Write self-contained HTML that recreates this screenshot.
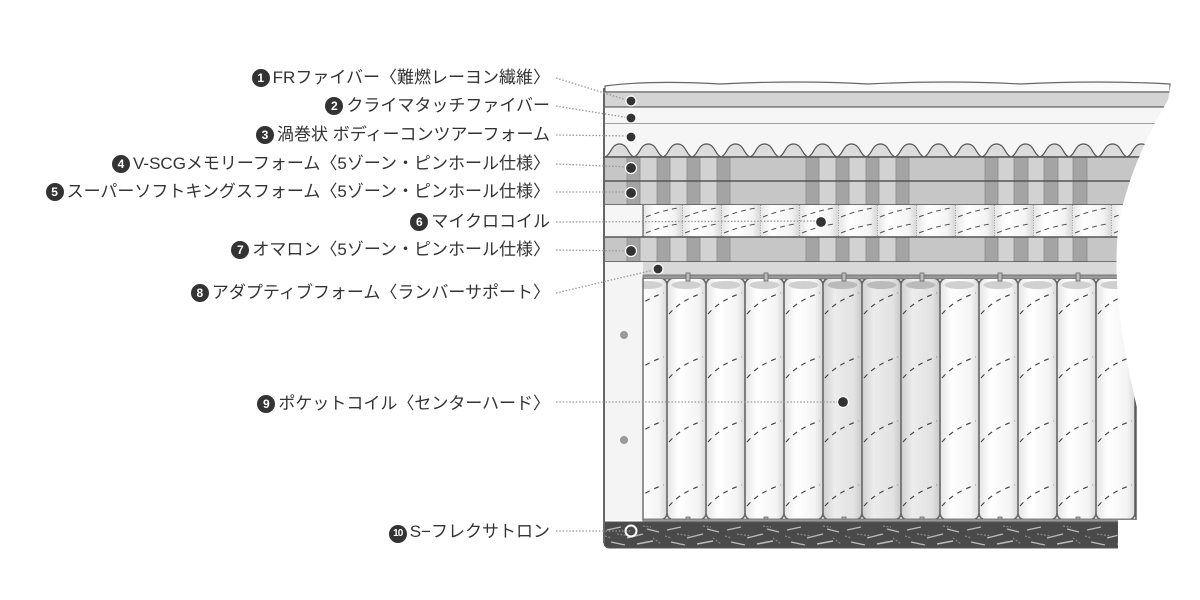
<!DOCTYPE html>
<html><head><meta charset="utf-8"><style>
html,body{margin:0;padding:0;background:#fff;width:1200px;height:600px;overflow:hidden;position:relative}
.l{position:absolute;right:650px;height:24px;line-height:24px;white-space:nowrap;font-family:"Liberation Sans","Noto Sans CJK JP",sans-serif;font-size:17px;color:#333;text-align:right}
.n{display:inline-block;width:18px;height:18px;border-radius:50%;background:#333;color:#fff;font-size:12px;font-weight:bold;line-height:18px;text-align:center;vertical-align:1px;margin-right:3px}
.n.s{font-size:10px;letter-spacing:-1px}
svg{position:absolute;left:0;top:0}
</style></head><body>
<svg width="1200" height="600" viewBox="0 0 1200 600" xmlns="http://www.w3.org/2000/svg">
<defs>
<linearGradient id="cg" x1="0" x2="1"><stop offset="0" stop-color="#e4e4e4"/><stop offset="0.3" stop-color="#fff"/><stop offset="0.8" stop-color="#f4f4f4"/><stop offset="1" stop-color="#d8d8d8"/></linearGradient>
<linearGradient id="cgd" x1="0" x2="1"><stop offset="0" stop-color="#cfcfcf"/><stop offset="0.3" stop-color="#ececec"/><stop offset="0.8" stop-color="#e2e2e2"/><stop offset="1" stop-color="#c8c8c8"/></linearGradient>
<pattern id="bump" x="605" y="140" width="29" height="17" patternUnits="userSpaceOnUse">
<path d="M0,17 C6,15 6,4 14.5,4 C23,4 23,15 29,17 Z" fill="#dcdcdc" stroke="#555" stroke-width="1.2"/>
</pattern>
<pattern id="micro" x="643" y="205" width="39" height="32" patternUnits="userSpaceOnUse">
<rect width="39" height="32" fill="url(#cg)"/>
<line x1="0.5" y1="0" x2="0.5" y2="32" stroke="#999" stroke-dasharray="1 1.5"/>
<path d="M3,12 Q20,5 36,3 M3,28 Q20,21 36,19" stroke="#555" fill="none" stroke-dasharray="5 4" stroke-width="1"/>
</pattern>
<pattern id="coil" x="628" y="278" width="39" height="242" patternUnits="userSpaceOnUse">
<rect x="0" y="0" width="39" height="242" rx="7" fill="url(#cg)" stroke="#666" stroke-width="1.6"/>
<ellipse cx="19.5" cy="7" rx="15" ry="4" fill="#d0d0d0"/>
<path d="M2,36 Q14,22 36,15 M2,100 Q14,86 36,79 M2,164 Q14,150 36,143 M2,228 Q14,214 36,207" stroke="#444" fill="none" stroke-dasharray="5 5" stroke-width="1.1"/>
</pattern>
<pattern id="coild" x="628" y="278" width="39" height="242" patternUnits="userSpaceOnUse">
<rect x="0" y="0" width="39" height="242" rx="7" fill="url(#cgd)" stroke="#666" stroke-width="1.6"/>
<ellipse cx="19.5" cy="7" rx="15" ry="4" fill="#bbb"/>
<path d="M2,36 Q14,22 36,15 M2,100 Q14,86 36,79 M2,164 Q14,150 36,143 M2,228 Q14,214 36,207" stroke="#444" fill="none" stroke-dasharray="5 5" stroke-width="1.1"/>
</pattern>
<pattern id="flex" x="603" y="524" width="60" height="24" patternUnits="userSpaceOnUse">
<rect width="60" height="24" fill="#4a4a4a"/>
<path d="M4,6 L18,3 M24,14 L40,10 M44,5 L56,8 M8,18 L22,21 M34,20 L50,17" stroke="#bbb" stroke-width="1.4"/>
<path d="M14,10 L28,12 M40,2 L48,3 M50,14 L58,20 M2,12 L8,14" stroke="#888" stroke-width="1.2" stroke-dasharray="2 1.5"/>
</pattern>
<clipPath id="cut"><path d="M590,60 L1175,60 L1168,100 C1150,130 1125,180 1118,230 C1112,290 1125,360 1140,420 L1140,520 L1118,520 L1118,560 L590,560 Z"/></clipPath>
</defs>

<g clip-path="url(#cut)">
<path d="M605,92 L605,86 Q650,80 720,84 Q800,80 868,84 Q950,80 1020,84 Q1100,80 1170,84 L1170,92 Z" fill="#fafafa" stroke="#666" stroke-width="1.2"/>
<rect x="604" y="92" width="570" height="15" fill="#d4d4d4" stroke="#666" stroke-width="1.2"/>
<rect x="604" y="107" width="570" height="17" fill="#f6f6f6" stroke="#666" stroke-width="1.2"/>
<rect x="604" y="124" width="570" height="33" fill="#f6f6f6"/>
<rect x="605" y="140" width="565" height="17" fill="url(#bump)"/>
<rect x="604" y="157" width="570" height="48" fill="#c6c6c6"/>
<rect x="604" y="237" width="570" height="25" fill="#c6c6c6"/>
<g fill="#d2d2d2">
<rect x="640" y="157" width="17" height="48"/><rect x="670" y="157" width="17" height="48"/><rect x="700" y="157" width="17" height="48"/>
<rect x="819" y="157" width="17" height="48"/><rect x="849" y="157" width="17" height="48"/><rect x="879" y="157" width="17" height="48"/>
<rect x="998" y="157" width="16" height="48"/><rect x="1028" y="157" width="16" height="48"/><rect x="1058" y="157" width="15" height="48"/>
<rect x="640" y="237" width="17" height="25"/><rect x="670" y="237" width="17" height="25"/><rect x="700" y="237" width="17" height="25"/>
<rect x="819" y="237" width="17" height="25"/><rect x="849" y="237" width="17" height="25"/><rect x="879" y="237" width="17" height="25"/>
<rect x="998" y="237" width="16" height="25"/><rect x="1028" y="237" width="16" height="25"/><rect x="1058" y="237" width="15" height="25"/>
</g>
<g fill="#a4a4a4" stroke="#8a8a8a" stroke-width="0.8">
<rect x="627" y="157" width="13" height="48"/><rect x="657" y="157" width="13" height="48"/><rect x="687" y="157" width="13" height="48"/><rect x="717" y="157" width="13" height="48"/>
<rect x="806" y="157" width="13" height="48"/><rect x="836" y="157" width="13" height="48"/><rect x="866" y="157" width="13" height="48"/><rect x="896" y="157" width="13" height="48"/>
<rect x="985" y="157" width="13" height="48"/><rect x="1014" y="157" width="14" height="48"/><rect x="1044" y="157" width="14" height="48"/><rect x="1073" y="157" width="14" height="48"/>
<rect x="627" y="237" width="13" height="25"/><rect x="657" y="237" width="13" height="25"/><rect x="687" y="237" width="13" height="25"/><rect x="717" y="237" width="13" height="25"/>
<rect x="806" y="237" width="13" height="25"/><rect x="836" y="237" width="13" height="25"/><rect x="866" y="237" width="13" height="25"/><rect x="896" y="237" width="13" height="25"/>
<rect x="985" y="237" width="13" height="25"/><rect x="1014" y="237" width="14" height="25"/><rect x="1044" y="237" width="14" height="25"/><rect x="1073" y="237" width="14" height="25"/>
</g>
<line x1="604" y1="157" x2="1174" y2="157" stroke="#555" stroke-width="1.4"/>
<line x1="604" y1="181" x2="1174" y2="181" stroke="#555" stroke-width="1.4"/>
<line x1="604" y1="205" x2="1174" y2="205" stroke="#555" stroke-width="1.4"/>
<rect x="604" y="205" width="39" height="32" fill="#f6f6f6"/>
<rect x="643" y="205" width="530" height="32" fill="url(#micro)"/>
<line x1="643" y1="205" x2="643" y2="237" stroke="#666" stroke-width="1.2"/>
<line x1="604" y1="237" x2="1174" y2="237" stroke="#555" stroke-width="1.4"/>
<line x1="604" y1="262" x2="1174" y2="262" stroke="#555" stroke-width="1.4"/>
<rect x="604" y="262" width="39" height="258" fill="#f4f4f4"/>
<rect x="643" y="262" width="530" height="13" fill="#d8d8d8"/>
<rect x="643" y="275" width="530" height="4" fill="#999" stroke="#666" stroke-width="0.8"/>
<rect x="643" y="279" width="493" height="241" fill="url(#coil)"/>
<rect x="823" y="279" width="117" height="241" fill="url(#coild)"/>
<line x1="643" y1="278" x2="643" y2="520" stroke="#666" stroke-width="1.4"/>
<line x1="1136" y1="290" x2="1136" y2="520" stroke="#555" stroke-width="1.4"/>
<path d="M1140,330 Q1150,318 1165,313 M1140,375 Q1150,362 1165,357 M1140,420 Q1150,408 1165,403" stroke="#666" fill="none" stroke-dasharray="5 5"/>
<g fill="#bbb" stroke="#666" stroke-width="0.8">
<rect x="686" y="273" width="4" height="8"/><rect x="764" y="273" width="4" height="8"/><rect x="842" y="273" width="4" height="8"/><rect x="920" y="273" width="4" height="8"/><rect x="998" y="273" width="4" height="8"/><rect x="1076" y="273" width="4" height="8"/>
<rect x="686" y="517" width="4" height="8"/><rect x="764" y="517" width="4" height="8"/><rect x="842" y="517" width="4" height="8"/><rect x="920" y="517" width="4" height="8"/><rect x="998" y="517" width="4" height="8"/><rect x="1076" y="517" width="4" height="8"/>
</g>
<rect x="643" y="519" width="493" height="4" fill="#999" stroke="#666" stroke-width="0.8"/>
<path d="M604,522 L1118,522 L1118,548 L610,548 Q604,548 604,542 Z" fill="url(#flex)" stroke="#555" stroke-width="1"/>
</g>
<line x1="604" y1="88" x2="604" y2="543" stroke="#666" stroke-width="2"/>
<ellipse cx="624" cy="335" rx="4" ry="4" fill="#999"/>
<ellipse cx="624" cy="440" rx="4" ry="4" fill="#999"/>

<g stroke="#999" stroke-width="1.3" stroke-dasharray="1.5 1.8" fill="none">
<line x1="556" y1="78" x2="630" y2="101"/>
<line x1="556" y1="106" x2="630" y2="118"/>
<line x1="556" y1="135" x2="630" y2="136"/>
<line x1="556" y1="164" x2="630" y2="167"/>
<line x1="556" y1="192" x2="630" y2="192"/>
<line x1="556" y1="222" x2="820" y2="221"/>
<line x1="556" y1="250" x2="630" y2="251"/>
<line x1="556" y1="293" x2="658" y2="269"/>
<line x1="556" y1="402" x2="842" y2="402"/>
<line x1="556" y1="531" x2="630" y2="531"/>
</g>
<g fill="#333" stroke="#fff" stroke-width="1.2">
<circle cx="631" cy="101" r="5"/><circle cx="631" cy="118" r="5"/><circle cx="631" cy="137" r="5"/>
<circle cx="631" cy="168" r="5.5"/><circle cx="631" cy="193" r="5.5"/><circle cx="821" cy="222" r="5.5"/>
<circle cx="631" cy="251" r="5.5"/><circle cx="658" cy="269" r="5"/><circle cx="843" cy="402" r="5.5"/>
</g>
<circle cx="631" cy="531" r="5.5" fill="none" stroke="#fff" stroke-width="2"/>
</svg>

<div class="l" style="top:66px"><span class="n">1</span>FRファイバー〈難燃レーヨン繊維〉</div>
<div class="l" style="top:94px"><span class="n">2</span>クライマタッチファイバー</div>
<div class="l" style="top:123px"><span class="n">3</span>渦巻状 ボディーコンツアーフォーム</div>
<div class="l" style="top:152px"><span class="n">4</span>V-SCGメモリーフォーム〈5ゾーン・ピンホール仕様〉</div>
<div class="l" style="top:180px"><span class="n">5</span>スーパーソフトキングスフォーム〈5ゾーン・ピンホール仕様〉</div>
<div class="l" style="top:210px"><span class="n">6</span>マイクロコイル</div>
<div class="l" style="top:238px"><span class="n">7</span>オマロン〈5ゾーン・ピンホール仕様〉</div>
<div class="l" style="top:281px"><span class="n">8</span>アダプティブフォーム〈ランバーサポート〉</div>
<div class="l" style="top:392px"><span class="n">9</span>ポケットコイル〈センターハード〉</div>
<div class="l" style="top:520px"><span class="n s">10</span>S−フレクサトロン</div>
</body></html>
